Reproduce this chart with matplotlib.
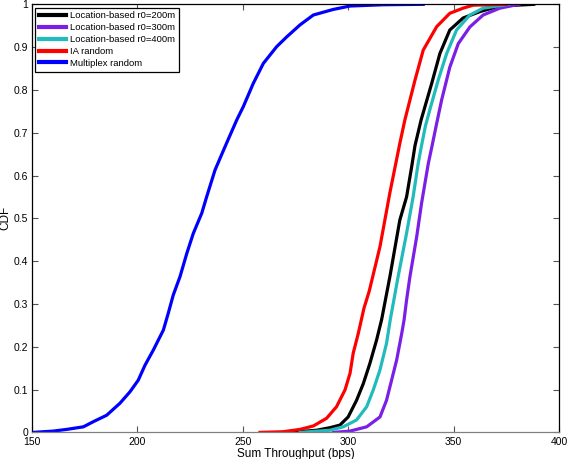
import matplotlib
matplotlib.use('Agg')
from matplotlib import pyplot as plt

plt.rcParams['font.family'] = ['Liberation Sans', 'DejaVu Sans']

# CDF curves: (sum throughput, cdf)
loc200_x = [272.4, 285.1, 291.4, 296.1, 300, 304, 307.2, 310.3, 313.5, 315.9, 319.8, 324.5,
            327.7, 330.1, 331.7, 334.6, 339.6, 343.5, 348.2, 354.5, 362.5, 371.9, 388]
loc200_y = [0, 0.005, 0.011, 0.017, 0.036, 0.075, 0.114, 0.161, 0.216, 0.264, 0.364, 0.496,
            0.55, 0.62, 0.67, 0.73, 0.815, 0.885, 0.94, 0.968, 0.983, 0.996, 1.0]

loc300_x = [293, 300.9, 308.8, 315.1, 318.2, 320.6, 323, 325.4, 326.5, 327.7, 329.3, 332.5,
            334.8, 338, 339.6, 341.9, 344.3, 348.2, 352.2, 357.7, 364, 371.9, 381]
loc300_y = [0, 0.003, 0.013, 0.036, 0.075, 0.122, 0.169, 0.231, 0.262, 0.309, 0.364, 0.457,
            0.535, 0.628, 0.665, 0.72, 0.776, 0.853, 0.908, 0.947, 0.975, 0.991, 1.0]

loc400_x = [277.2, 291.4, 297.7, 304, 308.8, 311.9, 315.1, 318.2, 320, 323.7, 327.7, 330.8,
            333.2, 334.6, 336.6, 338.8, 342.7, 346.7, 351.4, 357.7, 364, 376]
loc400_y = [0, 0.005, 0.013, 0.029, 0.06, 0.099, 0.146, 0.208, 0.264, 0.364, 0.465, 0.55,
            0.628, 0.665, 0.715, 0.755, 0.823, 0.885, 0.94, 0.975, 0.991, 1.0]

ia_x = [258.2, 269.2, 277.2, 283.5, 289.8, 294.5, 298.5, 300.9, 302.4, 304.8, 307.5, 310,
        315.1, 319.8, 324.5, 326.9, 331.7, 335.6, 342, 348.2, 354.5, 359.3, 375.1]
ia_y = [0, 0.0015, 0.007, 0.015, 0.033, 0.06, 0.099, 0.138, 0.185, 0.231, 0.29, 0.33,
        0.434, 0.56, 0.675, 0.73, 0.823, 0.893, 0.948, 0.979, 0.991, 0.998, 1.0]

mux_x = [150.8, 160.2, 166.6, 174.5, 179.2, 185.5, 191.8, 196.6, 200.5, 203.7, 207.6, 212.4,
         214.7, 217.1, 220.3, 223.5, 226.6, 230.6, 232.9, 236.9, 241.6, 247.2, 250.3, 255.0,
         259.8, 266.1, 270.9, 277.2, 283.5, 292.9, 300.9, 316.6, 335.6]
mux_y = [0, 0.003, 0.007, 0.013, 0.025, 0.04, 0.068, 0.095, 0.122, 0.157, 0.192, 0.239,
         0.278, 0.321, 0.364, 0.418, 0.465, 0.512, 0.55, 0.613, 0.667, 0.73, 0.761, 0.815,
         0.862, 0.901, 0.924, 0.952, 0.975, 0.988, 0.996, 0.999, 1.0]

labels = ['Location-based r0=200m', 'Location-based r0=300m', 'Location-based r0=400m',
          'IA random', 'Multiplex random']
colors = ['black', '#7b1fe6', '#22bbbb', 'red', 'blue']

xticks = [150, 200, 250, 300, 350, 400]
yticks = [0, 0.1, 0.2, 0.3, 0.4, 0.5, 0.6, 0.7, 0.8, 0.9, 1]
yticklabels = ['0', '0.1', '0.2', '0.3', '0.4', '0.5', '0.6', '0.7', '0.8', '0.9', '1']

fig = plt.figure(figsize=(5.67, 4.59), dpi=100)
ax = fig.add_axes([0.056, 0.058, 0.930, 0.9326])

series = [(loc200_x, loc200_y), (loc300_x, loc300_y), (loc400_x, loc400_y),
          (ia_x, ia_y), (mux_x, mux_y)]
for (xs, ys), lab, c in zip(series, labels, colors):
    ax.plot(xs, ys, color=c, lw=2.3, label=lab, solid_joinstyle='round')

ax.set_xlim(150, 400)
ax.set_ylim(0, 1)
ax.set_xticks(xticks)
ax.set_yticks(yticks)
ax.set_yticklabels(yticklabels)
ax.tick_params(direction='in', length=4, width=0.8, labelsize=7.5,
               top=True, right=True, colors='#555555', labelcolor='black')
ax.tick_params(axis='x', pad=3.5)
ax.tick_params(axis='y', pad=2.5)
for s in ax.spines.values():
    s.set_linewidth(0.9)
ax.spines['bottom'].set_color('#808080')

ax.set_xlabel('Sum Throughput (bps)', fontsize=8.5, labelpad=0.5)
ax.set_ylabel('CDF', fontsize=8.5, labelpad=2)

leg = ax.legend(loc='upper left', fontsize=6.8, frameon=True, fancybox=False,
                edgecolor='black', framealpha=1, handlelength=2.9, handletextpad=0.45,
                borderpad=0.4, labelspacing=0.3, borderaxespad=0.35)
leg.get_frame().set_linewidth(0.9)
for line in leg.get_lines():
    line.set_linewidth(3)

fig.savefig('out.png', dpi=100)
